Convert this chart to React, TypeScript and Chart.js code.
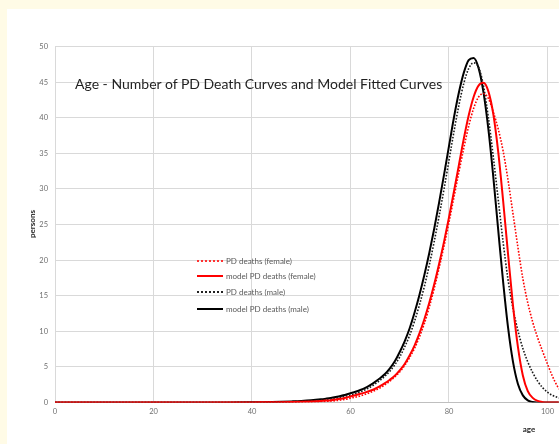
import React, { useEffect, useRef } from "react";
import { Chart, registerables } from "chart.js";

Chart.register(...registerables);

// ---- data ----
const ages = [
  0, 10, 20, 30, 35, 40, 42, 44, 46, 48, 50, 52, 54,
  55, 56, 57, 58, 59, 60, 61, 62, 63, 64,
  65, 66, 67, 68, 69, 70, 71, 72, 73, 74,
  75, 76, 77, 78, 79, 80, 81, 82, 83, 84,
  85, 86, 87, 88, 89, 90, 91, 92, 93, 94,
  95, 96, 97, 98, 99, 100, 101, 102, 103,
];

const pdDeathsFemale = [
  0, 0, 0, 0.001, 0.003, 0.008, 0.012, 0.02, 0.03, 0.045, 0.065, 0.09, 0.13,
  0.16, 0.2, 0.26, 0.34, 0.45, 0.6, 0.75, 0.93, 1.15, 1.4,
  1.7, 2.05, 2.5, 3.0, 3.6, 4.3, 5.2, 6.3, 7.6, 9.2,
  11.1, 13.4, 16.0, 18.9, 22.0, 25.3, 28.8, 32.3, 35.7, 38.8,
  41.3, 42.9, 43.4, 42.7, 40.8, 38.4, 35.3, 31.2, 26.5, 21.8,
  17.4, 14.0, 11.3, 9.1, 7.2, 5.4, 3.7, 2.3, 1.4,
];

const modelFemale = [
  0, 0, 0, 0.002, 0.005, 0.012, 0.018, 0.028, 0.045, 0.07, 0.1, 0.15, 0.22,
  0.27, 0.33, 0.42, 0.53, 0.68, 0.85, 1.02, 1.22, 1.42, 1.65,
  1.93, 2.3, 2.72, 3.2, 3.75, 4.5, 5.4, 6.6, 8.0, 9.7,
  11.7, 14.0, 16.6, 19.5, 22.6, 26.0, 29.6, 33.3, 37.0, 40.3,
  42.9, 44.5, 44.9, 43.7, 40.5, 35.2, 28.3, 20.8, 13.6, 7.8,
  3.8, 1.6, 0.65, 0.22, 0.05, 0, 0, 0, 0,
];

const pdDeathsMale = [
  0, 0, 0, 0.003, 0.008, 0.02, 0.03, 0.045, 0.07, 0.1, 0.15, 0.22, 0.33,
  0.4, 0.5, 0.6, 0.72, 0.88, 1.05, 1.25, 1.5, 1.8, 2.15,
  2.6, 3.1, 3.7, 4.4, 5.3, 6.4, 7.8, 9.4, 11.4, 13.7,
  16.3, 19.3, 22.6, 26.2, 30.0, 34.0, 38.0, 41.7, 44.8, 46.9,
  47.7, 47.1, 44.5, 40.0, 34.5, 28.5, 22.5, 17.2, 13.2, 10.1,
  7.6, 5.7, 4.2, 3.0, 2.1, 1.45, 1.0, 0.72, 0.5,
];

const modelMale = [
  0, 0, 0, 0.005, 0.012, 0.03, 0.04, 0.065, 0.1, 0.15, 0.21, 0.3, 0.44,
  0.53, 0.63, 0.76, 0.91, 1.1, 1.3, 1.5, 1.75, 2.05, 2.45,
  2.9, 3.4, 4.0, 4.8, 5.8, 7.1, 8.6, 10.4, 12.6, 15.1,
  17.9, 21.0, 24.4, 28.1, 32.0, 36.0, 40.0, 43.5, 46.3, 48.1,
  48.4, 47.0, 43.6, 38.4, 31.7, 24.2, 16.9, 10.5, 5.7, 2.6,
  1.0, 0.3, 0.07, 0.01, 0, 0, 0, 0, 0,
];

const seriesLabels = [
  "PD deaths (female)",
  "model PD deaths (female)",
  "PD deaths (male)",
  "model PD deaths (male)",
];

const chartTitle = "Age - Number of PD Death Curves and Model Fitted Curves";
const xTitle = "age";
const yTitle = "persons";

const FONT = "Lato, 'Open Sans', sans-serif";

function pts(vals: number[]) {
  return ages.map((a, i) => ({ x: a, y: vals[i] }));
}

export default function App() {
  const ref = useRef<HTMLCanvasElement | null>(null);

  useEffect(() => {
    document.body.style.margin = "0";
    const canvas = ref.current!;
    const chart = new Chart(canvas, {
      type: "line",
      data: {
        datasets: [
          {
            label: seriesLabels[0],
            data: pts(pdDeathsFemale),
            borderColor: "#ff0000",
            borderWidth: 1.6,
            borderDash: [1.6, 1.6],
            pointRadius: 0,
            cubicInterpolationMode: "monotone",
          },
          {
            label: seriesLabels[1],
            data: pts(modelFemale),
            borderColor: "#ff0000",
            borderWidth: 2,
            pointRadius: 0,
            cubicInterpolationMode: "monotone",
          },
          {
            label: seriesLabels[2],
            data: pts(pdDeathsMale),
            borderColor: "#1a1a1a",
            borderWidth: 1.6,
            borderDash: [1.6, 1.6],
            pointRadius: 0,
            cubicInterpolationMode: "monotone",
          },
          {
            label: seriesLabels[3],
            data: pts(modelMale),
            borderColor: "#000000",
            borderWidth: 2,
            pointRadius: 0,
            cubicInterpolationMode: "monotone",
          },
        ],
      },
      options: {
        responsive: false,
        animation: false,
        devicePixelRatio: 1,
        layout: { padding: { left: 0, top: 46.5, right: 0, bottom: 0 } },
        plugins: {
          legend: { display: false },
          title: { display: false },
          tooltip: { enabled: false },
        },
        scales: {
          x: {
            type: "linear",
            min: 0,
            max: 102.3,
            afterFit: (s: any) => {
              s.height = 41.5;
            },
            ticks: {
              stepSize: 20,
              includeBounds: false,
              padding: 5,
              color: "#6f6f6f",
              font: { family: FONT, size: 7.5 },
              maxRotation: 0,
            },
            grid: { color: "#d9d9d9", drawTicks: false },
            border: { color: "#bfbfbf" },
          },
          y: {
            min: 0,
            max: 50,
            afterFit: (s: any) => {
              s.width = 55;
            },
            ticks: {
              stepSize: 5,
              padding: 7,
              color: "#6f6f6f",
              font: { family: FONT, size: 7.5 },
            },
            grid: { color: "#d9d9d9", drawTicks: false },
            border: { color: "#d9d9d9" },
          },
        },
      },
    });
    return () => chart.destroy();
  }, []);

  const legendRow = (i: number, top: number) => {
    const styles = [
      { borderTop: "2px dotted #ff3333" },
      { borderTop: "2px solid #ff0000" },
      { borderTop: "2px dotted #222" },
      { borderTop: "2px solid #000" },
    ];
    return (
      <div
        key={i}
        style={{
          position: "absolute",
          left: 197,
          top: top - 5,
          height: 10,
          display: "flex",
          alignItems: "center",
          whiteSpace: "nowrap",
        }}
      >
        <div style={{ width: 26, height: 0, ...styles[i] }} />
        <span
          style={{
            marginLeft: 3,
            fontFamily: FONT,
            fontSize: 8,
            color: "#595959",
            lineHeight: "10px",
          }}
        >
          {seriesLabels[i]}
        </span>
      </div>
    );
  };

  return (
    <div
      style={{
        position: "fixed",
        left: 0,
        top: 0,
        width: 559,
        height: 444,
        background: "#fffbe6",
        overflow: "hidden",
      }}
    >
      <div
        style={{
          position: "absolute",
          left: 7,
          top: 9,
          right: 0,
          bottom: 0,
          background: "#ffffff",
        }}
      />
      <canvas
        ref={ref}
        width={559}
        height={444}
        style={{ position: "absolute", left: 0, top: 0, width: 559, height: 444 }}
      />
      <div
        style={{
          position: "absolute",
          left: 75,
          top: 75,
          fontFamily: FONT,
          fontSize: 14,
          lineHeight: "17px",
          color: "#1f1f1f",
          whiteSpace: "nowrap",
        }}
      >
        {chartTitle}
      </div>
      {[261, 276, 292, 309].map((t, i) => legendRow(i, t))}
      <div
        style={{
          position: "absolute",
          left: 32,
          top: 224,
          transform: "translate(-50%, -50%) rotate(-90deg)",
          fontFamily: FONT,
          fontSize: 8,
          fontWeight: 700,
          color: "#262626",
          whiteSpace: "nowrap",
        }}
      >
        {yTitle}
      </div>
      <div
        style={{
          position: "absolute",
          left: 529,
          top: 429,
          transform: "translate(-50%, -50%)",
          fontFamily: FONT,
          fontSize: 8,
          fontWeight: 700,
          color: "#262626",
          whiteSpace: "nowrap",
        }}
      >
        {xTitle}
      </div>
    </div>
  );
}
